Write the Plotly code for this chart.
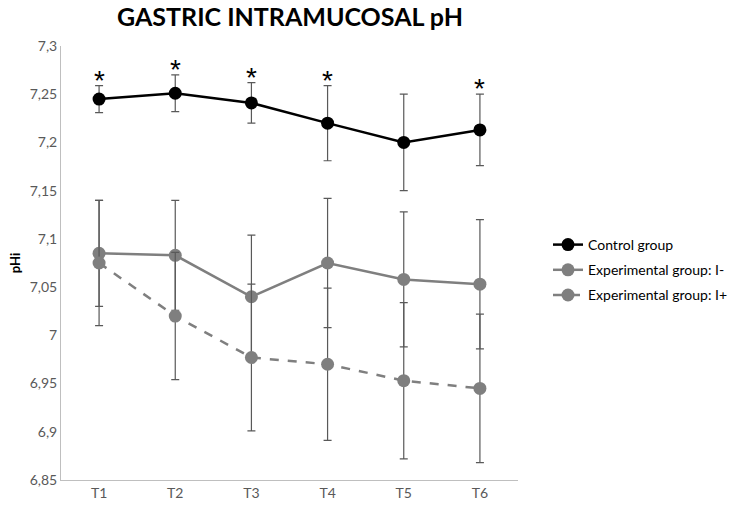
import plotly.graph_objects as go

times = ["T1", "T2", "T3", "T4", "T5", "T6"]

control = [7.245, 7.251, 7.241, 7.220, 7.200, 7.213]
control_sd = [0.014, 0.019, 0.021, 0.039, 0.050, 0.037]

exp_i_minus = [7.085, 7.083, 7.040, 7.075, 7.058, 7.053]
exp_i_minus_sd = [0.055, 0.057, 0.064, 0.067, 0.070, 0.067]

exp_i_plus = [7.075, 7.020, 6.977, 6.970, 6.953, 6.945]
exp_i_plus_sd = [0.065, 0.066, 0.076, 0.079, 0.081, 0.077]

significant = [True, True, True, True, False, True]

bar_color = "#595959"
grey = "#7f7f7f"


def err(sd):
    return dict(type="data", array=sd, visible=True, color=bar_color, thickness=1.2, width=4)


fig = go.Figure()
fig.add_trace(go.Scatter(x=times, y=control, name="Control group", mode="lines+markers",
                         legendgroup="c", line=dict(color="black", width=2.5),
                         marker=dict(color="black", size=13), error_y=err(control_sd)))
fig.add_trace(go.Scatter(x=times, y=exp_i_minus, name="Experimental group: I-", mode="lines+markers",
                         legendgroup="m", line=dict(color=grey, width=2.5),
                         marker=dict(color=grey, size=13), error_y=err(exp_i_minus_sd)))
fig.add_trace(go.Scatter(x=times, y=exp_i_plus, name="Experimental group: I+", mode="lines+markers",
                         legendgroup="p", line=dict(color=grey, width=2.5, dash="dash"),
                         marker=dict(color=grey, size=13), error_y=err(exp_i_plus_sd)))

# significance stars above the control group's error bars
for t, m, sd, s in zip(times, control, control_sd, significant):
    if s:
        fig.add_annotation(x=t, y=m + sd, text="*", showarrow=False, yanchor="bottom", yshift=-12,
                           font=dict(family="Liberation Sans, Arial", size=28, color="black"))

fig.update_layout(
    width=732, height=507,
    paper_bgcolor="white", plot_bgcolor="white",
    margin=dict(l=61, r=214, t=46, b=27),
    separators=",.",
    font=dict(family="Lato, Open Sans, sans-serif", color="#595959", size=14),
    title=dict(text="<b>GASTRIC INTRAMUCOSAL pH</b>", x=290 / 732, xanchor="center",
               y=0.965, yanchor="middle", font=dict(size=25, color="black")),
    legend=dict(xref="container", yref="container", x=548 / 732, y=1 - 270 / 507,
                xanchor="left", yanchor="middle", traceorder="grouped",
                font=dict(size=14, color="black"), tracegroupgap=4),
    showlegend=True,
)
fig.update_xaxes(showline=True, linecolor="#bfbfbf", linewidth=1, showgrid=False, automargin=False,
                 ticks="", range=[-0.5, 5.5], tickfont=dict(size=14, color="#595959"))
fig.update_yaxes(range=[6.85, 7.3], dtick=0.05, showline=True, linecolor="#bfbfbf", linewidth=1,
                 showgrid=False, zeroline=False, ticks="", automargin=False,
                 title=dict(text="<b>pHi</b>", font=dict(size=13, color="black"), standoff=6),
                 tickfont=dict(size=14, color="#595959"))

fig.write_html("out.html", config={"displayModeBar": False},
               post_script="document.body.style.margin='0';")
